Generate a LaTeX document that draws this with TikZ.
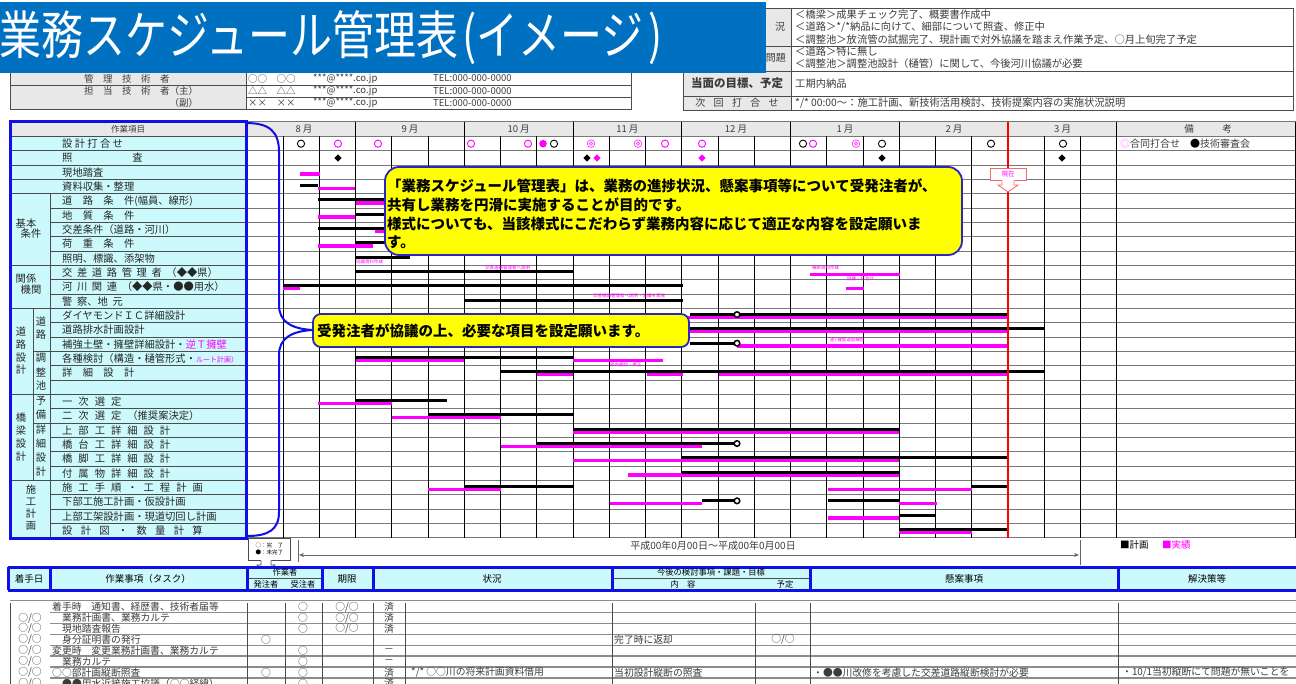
\documentclass[tikz,border=0pt]{standalone}
\usepackage{fontspec}
\usepackage{graphicx}
\setmainfont{Noto Sans CJK JP}
\usetikzlibrary{arrows.meta}
\definecolor{ttlblue}{RGB}{0,112,192}
\definecolor{pcyan}{RGB}{204,250,252}
\definecolor{hgrey}{RGB}{232,232,232}
\definecolor{pblue}{RGB}{16,16,230}
\definecolor{cblue}{RGB}{40,40,190}
\definecolor{mg}{RGB}{255,0,255}
\definecolor{gline}{RGB}{120,120,120}
\definecolor{txtg}{RGB}{60,60,60}
\definecolor{cyel}{RGB}{255,255,0}
\newcommand\kA{\hspace{4.6pt}}
\newcommand\kB{\hspace{6pt}}
\newcommand\kC{\hspace{8.3pt}}
\newcommand\gPlan[3]{\draw[planbar] (#1,{142.6+14.33*#3}) -- (#2,{142.6+14.33*#3});}
\newcommand\gAct[3]{\draw[actbar] (#1,{145.4+14.33*#3}) -- (#2,{145.4+14.33*#3});}
\newcommand\gDot[2]{\filldraw[fill=white,draw=black,line width=1.5pt] (#1,{142.6+14.33*#2}) circle (2.8);}
\newcommand\gItem[2]{\node[item] (it#1) at (62,{143.7+14.33*#1}) {#2};}
\newcommand\mO[2]{\draw[#2,line width=0.9pt] (#1,143.7) circle (3.6);}
\newcommand\mOO[2]{\draw[#2,line width=0.8pt] (#1,143.7) circle (3.8) (#1,143.7) circle (1.7);}
\newcommand\mF[2]{\fill[#2] (#1,143.7) circle (3.8);}
\newcommand\mD[2]{\fill[#2] (#1,154.4) -- ++(3.6,3.6) -- ++(-3.6,3.6) -- ++(-3.6,-3.6) -- cycle;}
\newcommand\bRow[1]{607+10.9*#1}
\begin{document}
\begin{tikzpicture}[x=1pt,y=-1pt,
  item/.style={anchor=west,inner sep=0,font=\fontsize{10.3}{11}\selectfont,text=black!85},
  grpc/.style={inner sep=0,font=\fontsize{10.3}{11}\selectfont,text=black!85},
  tb/.style={anchor=west,inner sep=0,font=\fontsize{9.5}{10}\selectfont,text=txtg},
  tbc/.style={inner sep=0,font=\fontsize{10}{11}\selectfont,text=txtg},
  tv/.style={anchor=west,inner sep=0,font=\fontsize{10.3}{11}\selectfont,text=txtg},
  hd/.style={inner sep=0,font=\fontsize{9.5}{10}\selectfont,text=black},
  hds/.style={inner sep=0,font=\fontsize{8.3}{9}\selectfont,text=black},
  bd/.style={anchor=west,inner sep=0,font=\fontsize{9.8}{10}\selectfont,text=txtg},
  bdc/.style={inner sep=0,font=\fontsize{9.8}{10}\selectfont,text=txtg},
  hline/.style={draw=gline,line width=1pt},
  vline/.style={draw=black,line width=0.8pt},
  pline/.style={draw=black!70,line width=0.8pt},
  planbar/.style={draw=black,line width=3pt},
  actbar/.style={draw=mg,line width=3.6pt},
  callout/.style={draw=cblue,line width=1.8pt,fill=cyel},
  tiny/.style={anchor=west,inner sep=0,font=\fontsize{4.5}{5}\selectfont,text=mg},
  bodyline/.style={draw=black!45,line width=1.3pt},
  mon/.style={inner sep=0,font=\fontsize{9.5}{10}\selectfont,text=txtg},
]
\useasboundingbox (0,0) rectangle (1296,684);
\clip (0,0) rectangle (1296,684);
\fill[white] (0,0) rectangle (1296,684);

% ---------- top-left table ----------
\fill[hgrey] (10,72) rectangle (246,109);
\draw[pline] (10,72) rectangle (631,109);
\draw[pline] (246,72) -- (246,109);
\draw[pline] (10,85) -- (631,85);
\draw[pline] (246,97) -- (631,97);
\node[tb] (mgr) at (84,78.5) {管　理　技　術　者};
\node[tb] (chg) at (84,91) {担　当　技　術　者（主）};
\node[tb] (sub) at (169.5,103) {（副）};
\node[tb] (v1a) at (248,78.5) {○○　○○};
\node[tb] (v1b) at (313,78.5) {***@****.co.jp};
\node[tb] (v1c) at (433,78.5) {TEL:000-000-0000};
\node[tb] (v2a) at (248,91) {△△　△△};
\node[tb] (v2b) at (313,91) {***@****.co.jp};
\node[tb] (v2c) at (433,91) {TEL:000-000-0000};
\node[tb] (v3a) at (248,103) {××　××};
\node[tb] (v3b) at (313,103) {***@****.co.jp};
\node[tb] (v3c) at (433,103) {TEL:000-000-0000};

% ---------- top-right table ----------
\fill[hgrey] (683,8) rectangle (791,110);
\draw[pline] (683,8) rectangle (1293,110);
\draw[pline] (791,8) -- (791,110);
\draw[pline] (683,46) -- (1293,46);
\draw[pline] (683,71) -- (1293,71);
\draw[pline] (683,96) -- (1293,96);
\node[tbc] (l1a) at (705,27) {現};
\node[tbc] (l1b) at (780,27) {況};
\node[tbc,anchor=east] (l2) at (786,57.5) {問題};
\node[tbc,font=\fontsize{11.5}{12}\selectfont\bfseries] (l3) at (737,83.5) {当面の目標、予定};
\node[tbc] (l4) at (737,103) {次\kC 回\kC 打\kC 合\kC せ};
\node[tv] (t1) at (795,15) {＜橋梁＞成果チェック完了、概要書作成中};
\node[tv] (t2) at (795,27.5) {＜道路＞*/*納品に向けて、細部について照査、修正中};
\node[tv] (t3) at (795,40) {＜調整池＞放流管の試掘完了、現計画で対外協議を踏まえ作業予定、○月上旬完了予定};
\node[tv] (t4) at (795,52) {＜道路＞特に無し};
\node[tv] (t5) at (795,64) {＜調整池＞調整池設計（樋管）に関して、今後河川協議が必要};
\node[tv] (t6) at (795,83.5) {工期内納品};
\node[tv] (t7) at (795,103) {*/* 00:00～：施工計画、新技術活用検討、技術提案内容の実施状況説明};

% ---------- title ----------
\fill[ttlblue] (0,2) rectangle (766,73);
\node[anchor=west,inner sep=0,text=white] (title) at (-1,38)
  {\scalebox{0.84}[1.04]{\fontsize{50}{50}\selectfont 業務スケジュール管理表\hspace{5pt}(イメージ\hspace{5pt})}};

% ---------- left panel ----------
\fill[pcyan] (10,136.5) rectangle (246,538);
\fill[hgrey] (10,122) rectangle (246,136.5);
\fill[hgrey] (246,122) rectangle (1296,136.5);
\foreach \k in {0,1,2,3,4,9,12,18,24} \draw[pline] (10,{136.5+14.33*\k}) -- (246,{136.5+14.33*\k});
\foreach \k in {15,20} \draw[pline] (33,{136.5+14.33*\k}) -- (246,{136.5+14.33*\k});
\foreach \k in {5,6,7,8,10,11,13,14,16,17,19,21,22,23,25,26,27} \draw[pline] (50,{136.5+14.33*\k}) -- (246,{136.5+14.33*\k});
\draw[pline] (50,{136.5+14.33*4}) -- (50,538);
\draw[pline] (33,{136.5+14.33*12}) -- (33,{136.5+14.33*24});
\node[inner sep=0,font=\fontsize{8.5}{9}\selectfont,text=txtg] (hdr) at (128,129) {作業項目};

\gItem{0}{設 計 打 合 せ}
\gItem{1}{照\hspace{60pt}査}
\gItem{2}{現地踏査}
\gItem{3}{資料収集・整理}
\gItem{4}{道　路　条　件(幅員、線形)}
\gItem{5}{地　質　条　件}
\gItem{6}{交差条件（道路・河川）}
\gItem{7}{荷　重　条　件}
\gItem{8}{照明、標識、添架物}
\gItem{9}{交\kA 差\kA 道\kA 路\kA 管\kA 理\kA 者\kA （◆◆県）}
\gItem{10}{河\kA 川\kA 関\kA 連\kA （◆◆県・●●用水）}
\gItem{11}{警\kA 察、地\kA 元}
\gItem{12}{ダイヤモンドＩＣ詳細設計}
\gItem{13}{道路排水計画設計}
\gItem{14}{補強土壁・擁壁詳細設計・{\color{mg}逆Ｔ擁壁}}
\gItem{15}{各種検討（構造・樋管形式・{\color{mg}\fontsize{7}{8}\selectfont ルート計画）}}
\gItem{16}{詳　細　設　計}
\gItem{18}{一\kB 次\kB 選\kB 定}
\gItem{19}{二\kB 次\kB 選\kB 定\kB （推奨案決定）}
\gItem{20}{上\kB 部\kB 工\kB 詳\kB 細\kB 設\kB 計}
\gItem{21}{橋\kB 台\kB 工\kB 詳\kB 細\kB 設\kB 計}
\gItem{22}{橋\kB 脚\kB 工\kB 詳\kB 細\kB 設\kB 計}
\gItem{23}{付\kB 属\kB 物\kB 詳\kB 細\kB 設\kB 計}
\gItem{24}{施\kB 工\kB 手\kB 順\kB ・\kB 工\kB 程\kB 計\kB 画}
\gItem{25}{下部工施工計画・仮設計画}
\gItem{26}{上部工架設計画・現道切回し計画}
\gItem{27}{設\kC 計\kC 図\kC ・\kC 数\kC 量\kC 計\kC 算}

\node[grpc] (g1a) at (26,224) {基本};
\node[grpc] (g1b) at (31,234) {条件};
\node[grpc] (g2a) at (26,279) {関係};
\node[grpc] (g2b) at (31,290) {機関};
\foreach \c/\y in {道/332,路/345,設/358,計/370} \node[grpc] at (21,\y) {\c};
\foreach \c/\y in {道/322,路/335} \node[grpc] at (41,\y) {\c};
\foreach \c/\y in {調/358,整/372,池/386} \node[grpc] at (41,\y) {\c};
\foreach \c/\y in {橋/418,梁/431,設/444,計/457} \node[grpc] at (21,\y) {\c};
\foreach \c/\y in {予/401,備/415} \node[grpc] at (41,\y) {\c};
\foreach \c/\y in {詳/430,細/444,設/458,計/472} \node[grpc] at (41,\y) {\c};
\foreach \c/\y in {施/490,工/502,計/514,画/526} \node[grpc] at (31,\y) {\c};

% ---------- gantt grid ----------
\foreach \k in {0,...,28} \draw[hline] (246,{136.5+14.33*\k}) -- (1296,{136.5+14.33*\k});
\draw[hline] (246,122) -- (1296,122);
\foreach \j in {0,1,3,4,6,7,9,10,12,13,15,16,18,19,21,22} \draw[vline] ({283+36.25*\j},136.5) -- ({283+36.25*\j},538);
\foreach \j in {2,5,8,11,14,17,20,23} \draw[vline] ({283+36.25*\j},122) -- ({283+36.25*\j},538);
\draw[vline] (1295.5,122) -- (1295.5,538);
\node[mon] (m8) at (304,129) {8 月};
\node[mon] (m9) at (410,129) {9 月};
\node[mon] (m10) at (518.6,129) {10 月};
\node[mon] (m11) at (627.4,129) {11 月};
\node[mon] (m12) at (736,129) {12 月};
\node[mon] (m1) at (845,129) {1 月};
\node[mon] (m2) at (954,129) {2 月};
\node[mon] (m3) at (1062.6,129) {3 月};
\node[mon] (bk) at (1208,129) {備　　　考};
\node[anchor=west,inner sep=0,font=\fontsize{10}{11}\selectfont,text=txtg] (bk0) at (1120,143.7) {{\color{mg!55}◎}合同打合せ　{\color{black}●}技術審査会};

% ---------- bars ----------
\gAct{300}{320}{2}
\gPlan{300}{318}{3} \gAct{318}{355}{3}
\gAct{356}{410}{4} \gPlan{318}{430}{4}
\gAct{318}{355}{5} \gPlan{356}{430}{5}
\gAct{375}{400}{6} \gPlan{318}{430}{6}
\gAct{318}{373}{7} \gPlan{356}{430}{7}
\gPlan{356}{410}{8}
\gPlan{356}{573}{9} \gAct{810}{900}{9}
\gAct{283}{300}{10} \gPlan{283}{683}{10} \gAct{846}{864}{10}
\gPlan{464}{683}{11}
\gAct{683}{1008}{12} \gPlan{690}{1008}{12} \gDot{737}{12}
\gAct{683}{1008}{13} \gPlan{683}{1045}{13}
\gAct{737}{1008}{14} \gPlan{690}{737}{14} \gDot{737}{14}
\gAct{356}{464}{15} \gAct{573}{663}{15} \gPlan{356}{573}{15}
\gAct{537}{573}{16} \gAct{647}{683}{16} \gAct{719}{1008}{16} \gPlan{501}{1045}{16}
\gAct{318}{392}{18} \gPlan{356}{447}{18}
\gAct{392}{501}{19} \gPlan{428}{573}{19}
\gAct{573}{899}{20} \gPlan{573}{899}{20}
\gAct{501}{702}{21} \gPlan{537}{737}{21} \gDot{737}{21}
\gAct{573}{899}{22} \gPlan{682}{1008}{22}
\gAct{628}{899}{23} \gPlan{682}{899}{23}
\gAct{428}{501}{24} \gPlan{464}{573}{24} \gAct{828}{972}{24} \gPlan{972}{1008}{24}
\gAct{610}{702}{25} \gPlan{702}{737}{25} \gDot{737}{25} \gPlan{828}{899}{25} \gAct{899}{937}{25}
\gAct{828}{899}{26} \gPlan{899}{936}{26}
\gAct{899}{972}{27} \gPlan{899}{1008}{27}

\node[tiny] (n8) at (356,262) {協議資料作成};
\node[tiny] (n9a) at (485,268) {交差道路管理者へ説明};
\node[tiny] (n9b) at (812,268) {横断資料作成};
\node[tiny] (n10) at (847,279) {協議・打合せ};
\node[tiny] (n11) at (593,296) {交差道路管理者へ説明・協議を実施};
\node[tiny] (n14) at (830,340) {逆T擁壁追加検討};
\node[tiny] (n15) at (610,365) {部内検討・修正};

% ---------- markers ----------
\mO{301}{black} \mO{338}{mg} \mO{378}{mg} \mO{471}{mg} \mO{528}{mg}
\mF{543}{mg} \mO{554}{black} \mOO{591}{mg!70} \mOO{638}{mg!70} \mO{665}{mg} \mO{702}{mg}
\mO{803}{black} \mO{813}{mg} \mOO{856}{mg!70} \mO{882}{black} \mO{991}{black} \mO{1063}{black}
\mD{338}{black} \mD{587}{black} \mD{597}{mg} \mD{702}{mg} \mD{882}{black} \mD{1062}{black}

% ---------- panel outline ----------
\draw[pblue,line width=3pt] (10,122) rectangle (246,538);

% ---------- callouts ----------
\draw[callout,rounded corners=14pt] (385,167) rectangle (962,255);
\node[anchor=west,inner sep=0,font=\fontsize{14.5}{16}\selectfont\bfseries] (c1a) at (387,186) {「業務スケジュール管理表」は、業務の進捗状況、懸案事項等について受発注者が、};
\node[anchor=west,inner sep=0,font=\fontsize{14.5}{16}\selectfont\bfseries] (c1b) at (387,205) {共有し業務を円滑に実施することが目的です。};
\node[anchor=west,inner sep=0,font=\fontsize{14.5}{16}\selectfont\bfseries] (c1c) at (387,224) {様式についても、当該様式にこだわらず業務内容に応じて適正な内容を設定願いま};
\node[anchor=west,inner sep=0,font=\fontsize{14.5}{16}\selectfont\bfseries] (c1d) at (387,242.5) {す。};
\draw[callout,rounded corners=8pt] (313,314) rectangle (689,347);
\node[anchor=west,inner sep=0,font=\fontsize{14.5}{16}\selectfont\bfseries] (c2) at (317,330.5) {受発注者が協議の上、必要な項目を設定願います。};

\coordinate (brTop) at (246,123);
\coordinate (brTip) at (313,330);
\coordinate (brBot) at (247,536);
\draw[pblue,line width=2pt] (brTop) .. controls (270,123) and (279,132) .. (279,152) -- (279,305)
  .. controls (279,322) and (292,329) .. (brTip)
  .. controls (292,331) and (279,338) .. (279,355) -- (279,512)
  .. controls (279,530) and (268,536) .. (brBot);

% ---------- now line ----------
\draw[red,line width=1.6pt] (1008.25,122) -- (1008.25,538);
\node[draw=red!60,fill=white,line width=0.8pt,inner sep=0,minimum width=36,minimum height=12.5,font=\fontsize{6.5}{7}\selectfont,text=mg] (now) at (1008,174.5) {現在};
\fill[white] (1002,180) -- (1002,185) -- (998,185) -- (1008,192) -- (1018,185) -- (1014,185) -- (1014,180) -- cycle;
\draw[red!60,line width=0.8pt] (1002,181) -- (1002,185) -- (998,185) -- (1008,192) -- (1018,185) -- (1014,185) -- (1014,181);

% ---------- legend box, period ----------
\node[draw=black!70,fill=white,line width=0.6pt,inner sep=1.5pt,align=left,anchor=north west,minimum width=42,minimum height=22,font=\fontsize{5.5}{7}\selectfont] (done) at (248,538) {○：完　了\\●：未完了};
\fill[white] (261,559.5) -- (261,565) -- (257,565) -- (266,573) -- (275,565) -- (271,565) -- (271,559.5) -- cycle;
\draw[black!70,line width=0.6pt] (261,560.5) -- (261,565) -- (257,565) -- (266,573) -- (275,565) -- (271,565) -- (271,560.5);
\draw[black!60,line width=0.7pt] (298,540) -- (298,562);
\draw[black!60,line width=0.7pt] (1080,540) -- (1080,565);
\coordinate (pL) at (299,555);
\coordinate (pR) at (1079,555);
\draw[black!60,line width=0.6pt,{Stealth[length=5pt,width=4pt]}-{Stealth[length=5pt,width=4pt]}] (pL) -- (pR);
\node[inner sep=0,font=\fontsize{10}{11}\selectfont,text=txtg] (period) at (713,546) {平成00年0月00日～平成00年0月00日};
\node[anchor=west,inner sep=0,font=\fontsize{9.5}{10}\selectfont] (lgP) at (1120,545) {■計画};
\node[anchor=west,inner sep=0,font=\fontsize{9.5}{10}\selectfont,text=mg] (lgA) at (1162,545) {■実績};

% ---------- bottom table header ----------
\fill[pcyan] (8,567) rectangle (1296,590);
\draw[pline,line width=0.6pt] (247,578.5) -- (322,578.5);
\draw[pline,line width=0.6pt] (612,578.5) -- (810,578.5);
\draw[pblue,line width=3pt] (8,567) -- (1296,567) (8,590) -- (1296,590);
\foreach \x in {8,50,247,322,373,612,810,1118} \draw[pblue,line width=3pt] (\x,567) -- (\x,590);
\node[hd] (h1) at (29,578.5) {着手日};
\node[hd] (h2) at (148,578.5) {作業事項（タスク）};
\node[hds] (h3) at (285,572.5) {作業者};
\node[hds] (h3a) at (266,584) {発注者};
\node[hds] (h3b) at (303,584) {受注者};
\node[hd] (h4) at (347,578.5) {期限};
\node[hd] (h5) at (492,578.5) {状況};
\node[hds] (h6) at (711,572.5) {今後の検討事項・課題・目標};
\node[hds] (h6a) at (683,584) {内　容};
\node[hds] (h6b) at (785,584) {予定};
\node[hd] (h7) at (964,578.5) {懸案事項};
\node[hd] (h8) at (1207,578.5) {解決策等};

% ---------- bottom table body ----------
\draw[bodyline] (10,600.5) -- (1296,600.5);
\foreach \r in {0,...,6} \draw[bodyline] (50,{612.5+10.9*\r}) -- (1296,{612.5+10.9*\r});
\draw[pline] (10,603) -- (10,684);
\foreach \x in {247,285,322,373,405,612,755,810,1118} \draw[pline] (\x,603) -- (\x,684);
\foreach \r in {1,...,7} \node[bdc] at (30,{\bRow{\r}}) {○/○};
\node[bd] (r0) at (52,{\bRow{0}}) {着手時　通知書、経歴書、技術者届等};
\node[bd] (r1) at (62,{\bRow{1}}) {業務計画書、業務カルテ};
\node[bd] (r2) at (62,{\bRow{2}}) {現地踏査報告};
\node[bd] (r3) at (62,{\bRow{3}}) {身分証明書の発行};
\node[bd] (r4) at (52,{\bRow{4}}) {変更時　変更業務計画書、業務カルテ};
\node[bd] (r5) at (62,{\bRow{5}}) {業務カルテ};
\node[bd] (r6) at (52,{\bRow{6}}) {○○部計画縦断照査};
\node[bd] (r7) at (62,{\bRow{7}}) {●●用水近接施工協議（○○経緯）};
\foreach \r in {0,1,2,4,5,6,7} \node[bdc] at (303,{\bRow{\r}}) {○};
\foreach \r in {3,6} \node[bdc] at (266,{\bRow{\r}}) {○};
\foreach \r in {0,1,2} \node[bdc] at (347,{\bRow{\r}}) {○/○};
\foreach \r in {0,1,2,6,7} \node[bdc] at (389,{\bRow{\r}}) {済};
\foreach \r in {4,5} \node[bdc] at (389,{\bRow{\r}}) {－};
\node[bd] (s6) at (411,{\bRow{6}}) {*/* ○○川の将来計画資料借用};
\node[bd] (k3) at (614,{\bRow{3}}) {完了時に返却};
\node[bdc] (y3) at (783,{\bRow{3}}) {○/○};
\node[bd] (k6) at (614,{\bRow{6}}) {当初設計縦断の照査};
\node[bd] (q6) at (813,{\bRow{6}}) {・●●川改修を考慮した交差道路縦断検討が必要};
\node[bd] (a6) at (1122,{\bRow{6}}) {・10/1当初縦断にて問題が無いことを};
\end{tikzpicture}
\end{document}
